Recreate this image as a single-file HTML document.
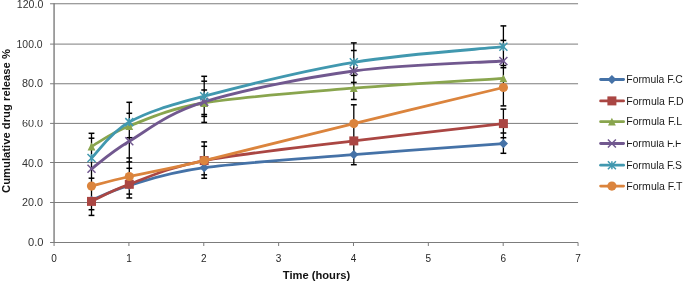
<!DOCTYPE html><html><head><meta charset="utf-8"><title>chart</title><style>html,body{margin:0;padding:0;background:#fff}body{width:685px;height:283px;overflow:hidden}svg{display:block;will-change:transform}text{font-family:"Liberation Sans",sans-serif}</style></head><body>
<svg width="685" height="283" viewBox="0 0 685 283">
<rect width="685" height="283" fill="#fff"/>
<defs><clipPath id="c60"><rect x="0" y="119.9" width="60" height="6.8"/></clipPath><clipPath id="cff"><rect x="620" y="140.4" width="65" height="12"/></clipPath></defs>
<line x1="54.07" y1="202.50" x2="578.05" y2="202.50" stroke="#7c7c7c" stroke-width="1"/>
<line x1="54.07" y1="162.50" x2="578.05" y2="162.50" stroke="#7c7c7c" stroke-width="1"/>
<line x1="54.07" y1="123.40" x2="578.05" y2="123.40" stroke="#7c7c7c" stroke-width="1"/>
<line x1="54.07" y1="83.75" x2="578.05" y2="83.75" stroke="#7c7c7c" stroke-width="1"/>
<line x1="54.07" y1="44.10" x2="578.05" y2="44.10" stroke="#7c7c7c" stroke-width="1"/>
<line x1="54.07" y1="3.75" x2="578.05" y2="3.75" stroke="#7c7c7c" stroke-width="1"/>
<line x1="54.07" y1="3.25" x2="54.07" y2="243.00" stroke="#7c7c7c" stroke-width="1.4"/>
<line x1="54.07" y1="242.50" x2="578.05" y2="242.50" stroke="#7c7c7c" stroke-width="1"/>
<line x1="50.07" y1="242.50" x2="54.07" y2="242.50" stroke="#7c7c7c" stroke-width="1"/>
<line x1="50.07" y1="202.50" x2="54.07" y2="202.50" stroke="#7c7c7c" stroke-width="1"/>
<line x1="50.07" y1="162.50" x2="54.07" y2="162.50" stroke="#7c7c7c" stroke-width="1"/>
<line x1="50.07" y1="123.40" x2="54.07" y2="123.40" stroke="#7c7c7c" stroke-width="1"/>
<line x1="50.07" y1="83.75" x2="54.07" y2="83.75" stroke="#7c7c7c" stroke-width="1"/>
<line x1="50.07" y1="44.10" x2="54.07" y2="44.10" stroke="#7c7c7c" stroke-width="1"/>
<line x1="50.07" y1="3.75" x2="54.07" y2="3.75" stroke="#7c7c7c" stroke-width="1"/>
<line x1="54.07" y1="242.50" x2="54.07" y2="246.00" stroke="#7c7c7c" stroke-width="1"/>
<line x1="128.92" y1="242.50" x2="128.92" y2="246.00" stroke="#7c7c7c" stroke-width="1"/>
<line x1="203.78" y1="242.50" x2="203.78" y2="246.00" stroke="#7c7c7c" stroke-width="1"/>
<line x1="278.63" y1="242.50" x2="278.63" y2="246.00" stroke="#7c7c7c" stroke-width="1"/>
<line x1="353.49" y1="242.50" x2="353.49" y2="246.00" stroke="#7c7c7c" stroke-width="1"/>
<line x1="428.34" y1="242.50" x2="428.34" y2="246.00" stroke="#7c7c7c" stroke-width="1"/>
<line x1="503.20" y1="242.50" x2="503.20" y2="246.00" stroke="#7c7c7c" stroke-width="1"/>
<line x1="578.05" y1="242.50" x2="578.05" y2="246.00" stroke="#7c7c7c" stroke-width="1"/>
<text x="43.5" y="246.30" font-size="10" text-anchor="end" fill="#333" textLength="15.5" lengthAdjust="spacingAndGlyphs">0.0</text>
<text x="43.0" y="206.20" font-size="10" text-anchor="end" fill="#333" textLength="21" lengthAdjust="spacingAndGlyphs">20.0</text>
<text x="43.0" y="166.50" font-size="10" text-anchor="end" fill="#333" textLength="21" lengthAdjust="spacingAndGlyphs">40.0</text>
<text x="43.0" y="127.30" font-size="10" text-anchor="end" fill="#333" textLength="21" lengthAdjust="spacingAndGlyphs" clip-path="url(#c60)">60.0</text>
<text x="43.0" y="87.20" font-size="10" text-anchor="end" fill="#333" textLength="21" lengthAdjust="spacingAndGlyphs">80.0</text>
<text x="42.6" y="47.50" font-size="10" text-anchor="end" fill="#333" textLength="26" lengthAdjust="spacingAndGlyphs">100.0</text>
<text x="43.3" y="8.15" font-size="10" text-anchor="end" fill="#333" textLength="26.5" lengthAdjust="spacingAndGlyphs">120.0</text>
<text x="54.07" y="261.6" font-size="10" text-anchor="middle" fill="#262626">0</text>
<text x="128.92" y="261.6" font-size="10" text-anchor="middle" fill="#262626">1</text>
<text x="203.78" y="261.6" font-size="10" text-anchor="middle" fill="#262626">2</text>
<text x="278.63" y="261.6" font-size="10" text-anchor="middle" fill="#262626">3</text>
<text x="353.49" y="261.6" font-size="10" text-anchor="middle" fill="#262626">4</text>
<text x="428.34" y="261.6" font-size="10" text-anchor="middle" fill="#262626">5</text>
<text x="503.20" y="261.6" font-size="10" text-anchor="middle" fill="#262626">6</text>
<text x="578.05" y="261.6" font-size="10" text-anchor="middle" fill="#262626">7</text>
<text x="316.5" y="279.4" font-size="11" font-weight="bold" text-anchor="middle" fill="#111" textLength="67.5" lengthAdjust="spacingAndGlyphs">Time (hours)</text>
<text transform="translate(9.7,121.0) rotate(-90)" font-size="11" font-weight="bold" text-anchor="middle" fill="#111" textLength="144" lengthAdjust="spacingAndGlyphs">Cumulative drug release %</text>
<line x1="91.50" y1="133.30" x2="91.50" y2="215.40" stroke="#000" stroke-width="1.3"/>
<line x1="129.30" y1="102.30" x2="129.30" y2="198.00" stroke="#000" stroke-width="1.3"/>
<line x1="204.20" y1="76.30" x2="204.20" y2="122.40" stroke="#000" stroke-width="1.3"/>
<line x1="204.20" y1="141.90" x2="204.20" y2="178.30" stroke="#000" stroke-width="1.3"/>
<line x1="353.80" y1="42.90" x2="353.80" y2="99.50" stroke="#000" stroke-width="1.3"/>
<line x1="353.80" y1="104.80" x2="353.80" y2="164.70" stroke="#000" stroke-width="1.3"/>
<line x1="503.40" y1="25.90" x2="503.40" y2="105.90" stroke="#000" stroke-width="1.3"/>
<line x1="503.40" y1="109.10" x2="503.40" y2="153.30" stroke="#000" stroke-width="1.3"/>
<line x1="88.60" y1="133.30" x2="94.40" y2="133.30" stroke="#000" stroke-width="1.5"/>
<line x1="88.60" y1="138.20" x2="94.40" y2="138.20" stroke="#000" stroke-width="1.5"/>
<line x1="88.60" y1="178.20" x2="94.40" y2="178.20" stroke="#000" stroke-width="1.5"/>
<line x1="88.60" y1="209.70" x2="94.40" y2="209.70" stroke="#000" stroke-width="1.5"/>
<line x1="88.60" y1="215.40" x2="94.40" y2="215.40" stroke="#000" stroke-width="1.5"/>
<line x1="126.40" y1="102.30" x2="132.20" y2="102.30" stroke="#000" stroke-width="1.5"/>
<line x1="126.40" y1="113.30" x2="132.20" y2="113.30" stroke="#000" stroke-width="1.5"/>
<line x1="126.40" y1="137.70" x2="132.20" y2="137.70" stroke="#000" stroke-width="1.5"/>
<line x1="126.40" y1="158.00" x2="132.20" y2="158.00" stroke="#000" stroke-width="1.5"/>
<line x1="126.40" y1="161.90" x2="132.20" y2="161.90" stroke="#000" stroke-width="1.5"/>
<line x1="126.40" y1="168.30" x2="132.20" y2="168.30" stroke="#000" stroke-width="1.5"/>
<line x1="126.40" y1="194.10" x2="132.20" y2="194.10" stroke="#000" stroke-width="1.5"/>
<line x1="126.40" y1="198.00" x2="132.20" y2="198.00" stroke="#000" stroke-width="1.5"/>
<line x1="201.30" y1="76.30" x2="207.10" y2="76.30" stroke="#000" stroke-width="1.5"/>
<line x1="201.30" y1="81.20" x2="207.10" y2="81.20" stroke="#000" stroke-width="1.5"/>
<line x1="201.30" y1="90.00" x2="207.10" y2="90.00" stroke="#000" stroke-width="1.5"/>
<line x1="201.30" y1="114.50" x2="207.10" y2="114.50" stroke="#000" stroke-width="1.5"/>
<line x1="201.30" y1="116.40" x2="207.10" y2="116.40" stroke="#000" stroke-width="1.5"/>
<line x1="201.30" y1="122.40" x2="207.10" y2="122.40" stroke="#000" stroke-width="1.5"/>
<line x1="201.30" y1="141.90" x2="207.10" y2="141.90" stroke="#000" stroke-width="1.5"/>
<line x1="201.30" y1="146.30" x2="207.10" y2="146.30" stroke="#000" stroke-width="1.5"/>
<line x1="201.30" y1="174.80" x2="207.10" y2="174.80" stroke="#000" stroke-width="1.5"/>
<line x1="201.30" y1="178.30" x2="207.10" y2="178.30" stroke="#000" stroke-width="1.5"/>
<line x1="350.90" y1="42.90" x2="356.70" y2="42.90" stroke="#000" stroke-width="1.5"/>
<line x1="350.90" y1="50.50" x2="356.70" y2="50.50" stroke="#000" stroke-width="1.5"/>
<line x1="350.90" y1="75.40" x2="356.70" y2="75.40" stroke="#000" stroke-width="1.5"/>
<line x1="350.90" y1="82.40" x2="356.70" y2="82.40" stroke="#000" stroke-width="1.5"/>
<line x1="350.90" y1="99.50" x2="356.70" y2="99.50" stroke="#000" stroke-width="1.5"/>
<line x1="350.90" y1="104.80" x2="356.70" y2="104.80" stroke="#000" stroke-width="1.5"/>
<line x1="350.90" y1="164.70" x2="356.70" y2="164.70" stroke="#000" stroke-width="1.5"/>
<line x1="500.50" y1="25.90" x2="506.30" y2="25.90" stroke="#000" stroke-width="1.5"/>
<line x1="500.50" y1="40.40" x2="506.30" y2="40.40" stroke="#000" stroke-width="1.5"/>
<line x1="500.50" y1="65.50" x2="506.30" y2="65.50" stroke="#000" stroke-width="1.5"/>
<line x1="500.50" y1="67.70" x2="506.30" y2="67.70" stroke="#000" stroke-width="1.5"/>
<line x1="500.50" y1="105.90" x2="506.30" y2="105.90" stroke="#000" stroke-width="1.5"/>
<line x1="500.50" y1="109.10" x2="506.30" y2="109.10" stroke="#000" stroke-width="1.5"/>
<line x1="500.50" y1="133.00" x2="506.30" y2="133.00" stroke="#000" stroke-width="1.5"/>
<line x1="500.50" y1="137.70" x2="506.30" y2="137.70" stroke="#000" stroke-width="1.5"/>
<line x1="500.50" y1="153.30" x2="506.30" y2="153.30" stroke="#000" stroke-width="1.5"/>
<path d="M91.50,200.40 C97.80,197.88 110.52,190.75 129.30,185.30 C148.08,179.85 166.78,172.82 204.20,167.70 C241.62,162.58 303.93,158.62 353.80,154.60 C403.67,150.58 478.47,145.43 503.40,143.60" fill="none" stroke="#4572A7" stroke-width="2.8" stroke-linecap="round" stroke-linejoin="round"/>
<path d="M91.50,195.80 L96.10,200.40 L91.50,205.00 L86.90,200.40Z" fill="#4572A7"/>
<path d="M129.30,180.70 L133.90,185.30 L129.30,189.90 L124.70,185.30Z" fill="#4572A7"/>
<path d="M204.20,163.10 L208.80,167.70 L204.20,172.30 L199.60,167.70Z" fill="#4572A7"/>
<path d="M353.80,150.00 L358.40,154.60 L353.80,159.20 L349.20,154.60Z" fill="#4572A7"/>
<path d="M503.40,139.00 L508.00,143.60 L503.40,148.20 L498.80,143.60Z" fill="#4572A7"/>
<path d="M91.50,201.40 C97.80,198.55 110.52,191.10 129.30,184.30 C148.08,177.50 166.78,167.83 204.20,160.60 C241.62,153.37 303.93,147.07 353.80,140.90 C403.67,134.73 478.47,126.48 503.40,123.60" fill="none" stroke="#AA4643" stroke-width="2.8" stroke-linecap="round" stroke-linejoin="round"/>
<rect x="87.00" y="196.90" width="9.00" height="9.00" fill="#AA4643"/>
<rect x="124.80" y="179.80" width="9.00" height="9.00" fill="#AA4643"/>
<rect x="199.70" y="156.10" width="9.00" height="9.00" fill="#AA4643"/>
<rect x="349.30" y="136.40" width="9.00" height="9.00" fill="#AA4643"/>
<rect x="498.90" y="119.10" width="9.00" height="9.00" fill="#AA4643"/>
<path d="M91.50,146.50 C97.80,143.08 110.52,133.25 129.30,126.00 C148.08,118.75 166.78,109.30 204.20,103.00 C241.62,96.70 303.93,92.32 353.80,88.20 C403.67,84.08 478.47,79.95 503.40,78.30" fill="none" stroke="#89A54E" stroke-width="2.8" stroke-linecap="round" stroke-linejoin="round"/>
<path d="M91.50,142.60 L95.40,150.40 L87.60,150.40Z" fill="#89A54E"/>
<path d="M129.30,122.10 L133.20,129.90 L125.40,129.90Z" fill="#89A54E"/>
<path d="M204.20,99.10 L208.10,106.90 L200.30,106.90Z" fill="#89A54E"/>
<path d="M353.80,84.30 L357.70,92.10 L349.90,92.10Z" fill="#89A54E"/>
<path d="M503.40,74.40 L507.30,82.20 L499.50,82.20Z" fill="#89A54E"/>
<path d="M91.50,168.80 C97.80,164.20 110.52,152.35 129.30,141.20 C148.08,130.05 166.78,113.60 204.20,101.90 C241.62,90.20 303.93,77.82 353.80,71.00 C403.67,64.18 478.47,62.67 503.40,61.00" fill="none" stroke="#71588F" stroke-width="2.8" stroke-linecap="round" stroke-linejoin="round"/>
<path d="M87.50,164.80 L95.50,172.80 M87.50,172.80 L95.50,164.80" stroke="#71588F" stroke-width="1.5" fill="none"/>
<path d="M125.30,137.20 L133.30,145.20 M125.30,145.20 L133.30,137.20" stroke="#71588F" stroke-width="1.5" fill="none"/>
<path d="M200.20,97.90 L208.20,105.90 M200.20,105.90 L208.20,97.90" stroke="#71588F" stroke-width="1.5" fill="none"/>
<path d="M349.80,67.00 L357.80,75.00 M349.80,75.00 L357.80,67.00" stroke="#71588F" stroke-width="1.5" fill="none"/>
<path d="M499.40,57.00 L507.40,65.00 M499.40,65.00 L507.40,57.00" stroke="#71588F" stroke-width="1.5" fill="none"/>
<path d="M91.50,158.00 C97.80,152.02 110.52,132.40 129.30,122.10 C148.08,111.80 166.78,106.17 204.20,96.20 C241.62,86.23 303.93,70.55 353.80,62.30 C403.67,54.05 478.47,49.30 503.40,46.70" fill="none" stroke="#4198AF" stroke-width="2.8" stroke-linecap="round" stroke-linejoin="round"/>
<path d="M87.50,154.00 L95.50,162.00 M87.50,162.00 L95.50,154.00 M91.50,154.00 L91.50,162.00" stroke="#4198AF" stroke-width="1.5" fill="none"/>
<path d="M125.30,118.10 L133.30,126.10 M125.30,126.10 L133.30,118.10 M129.30,118.10 L129.30,126.10" stroke="#4198AF" stroke-width="1.5" fill="none"/>
<path d="M200.20,92.20 L208.20,100.20 M200.20,100.20 L208.20,92.20 M204.20,92.20 L204.20,100.20" stroke="#4198AF" stroke-width="1.5" fill="none"/>
<path d="M349.80,58.30 L357.80,66.30 M349.80,66.30 L357.80,58.30 M353.80,58.30 L353.80,66.30" stroke="#4198AF" stroke-width="1.5" fill="none"/>
<path d="M499.40,42.70 L507.40,50.70 M499.40,50.70 L507.40,42.70 M503.40,42.70 L503.40,50.70" stroke="#4198AF" stroke-width="1.5" fill="none"/>
<path d="M91.50,186.10 C97.80,184.50 110.52,180.75 129.30,176.50 C148.08,172.25 166.78,169.42 204.20,160.60 C241.62,151.78 303.93,135.78 353.80,123.60 C403.67,111.42 478.47,93.52 503.40,87.50" fill="none" stroke="#DB843D" stroke-width="2.8" stroke-linecap="round" stroke-linejoin="round"/>
<circle cx="91.50" cy="186.10" r="4.6" fill="#DB843D"/>
<circle cx="129.30" cy="176.50" r="4.6" fill="#DB843D"/>
<circle cx="204.20" cy="160.60" r="4.6" fill="#DB843D"/>
<circle cx="353.80" cy="123.60" r="4.6" fill="#DB843D"/>
<circle cx="503.40" cy="87.50" r="4.6" fill="#DB843D"/>
<line x1="600.6" y1="79.50" x2="623.6" y2="79.50" stroke="#4572A7" stroke-width="2.8" stroke-linecap="round"/>
<path d="M611.90,74.90 L616.50,79.50 L611.90,84.10 L607.30,79.50Z" fill="#4572A7"/>
<text x="626.3" y="83.20" font-size="10" fill="#1a1a1a" textLength="56.5" lengthAdjust="spacingAndGlyphs">Formula F.C</text>
<line x1="600.6" y1="100.90" x2="623.6" y2="100.90" stroke="#AA4643" stroke-width="2.8" stroke-linecap="round"/>
<rect x="607.40" y="96.40" width="9.00" height="9.00" fill="#AA4643"/>
<text x="626.3" y="104.60" font-size="10" fill="#1a1a1a" textLength="57.4" lengthAdjust="spacingAndGlyphs">Formula F.D</text>
<line x1="600.6" y1="121.70" x2="623.6" y2="121.70" stroke="#89A54E" stroke-width="2.8" stroke-linecap="round"/>
<path d="M611.90,117.80 L615.80,125.60 L608.00,125.60Z" fill="#89A54E"/>
<text x="626.3" y="125.40" font-size="10" fill="#1a1a1a" textLength="55.7" lengthAdjust="spacingAndGlyphs">Formula F.L</text>
<line x1="600.6" y1="143.50" x2="623.6" y2="143.50" stroke="#71588F" stroke-width="2.8" stroke-linecap="round"/>
<path d="M607.90,139.50 L615.90,147.50 M607.90,147.50 L615.90,139.50" stroke="#71588F" stroke-width="1.5" fill="none"/>
<text x="626.3" y="147.20" font-size="10" fill="#1a1a1a" textLength="55.1" lengthAdjust="spacingAndGlyphs" clip-path="url(#cff)">Formula F.F</text>
<line x1="600.6" y1="165.20" x2="623.6" y2="165.20" stroke="#4198AF" stroke-width="2.8" stroke-linecap="round"/>
<path d="M607.90,161.20 L615.90,169.20 M607.90,169.20 L615.90,161.20 M611.90,161.20 L611.90,169.20" stroke="#4198AF" stroke-width="1.5" fill="none"/>
<text x="626.3" y="168.90" font-size="10" fill="#1a1a1a" textLength="55.7" lengthAdjust="spacingAndGlyphs">Formula F.S</text>
<line x1="600.6" y1="186.10" x2="623.6" y2="186.10" stroke="#DB843D" stroke-width="2.8" stroke-linecap="round"/>
<circle cx="611.90" cy="186.10" r="4.6" fill="#DB843D"/>
<text x="626.3" y="189.80" font-size="10" fill="#1a1a1a" textLength="56.2" lengthAdjust="spacingAndGlyphs">Formula F.T</text>
</svg></body></html>
